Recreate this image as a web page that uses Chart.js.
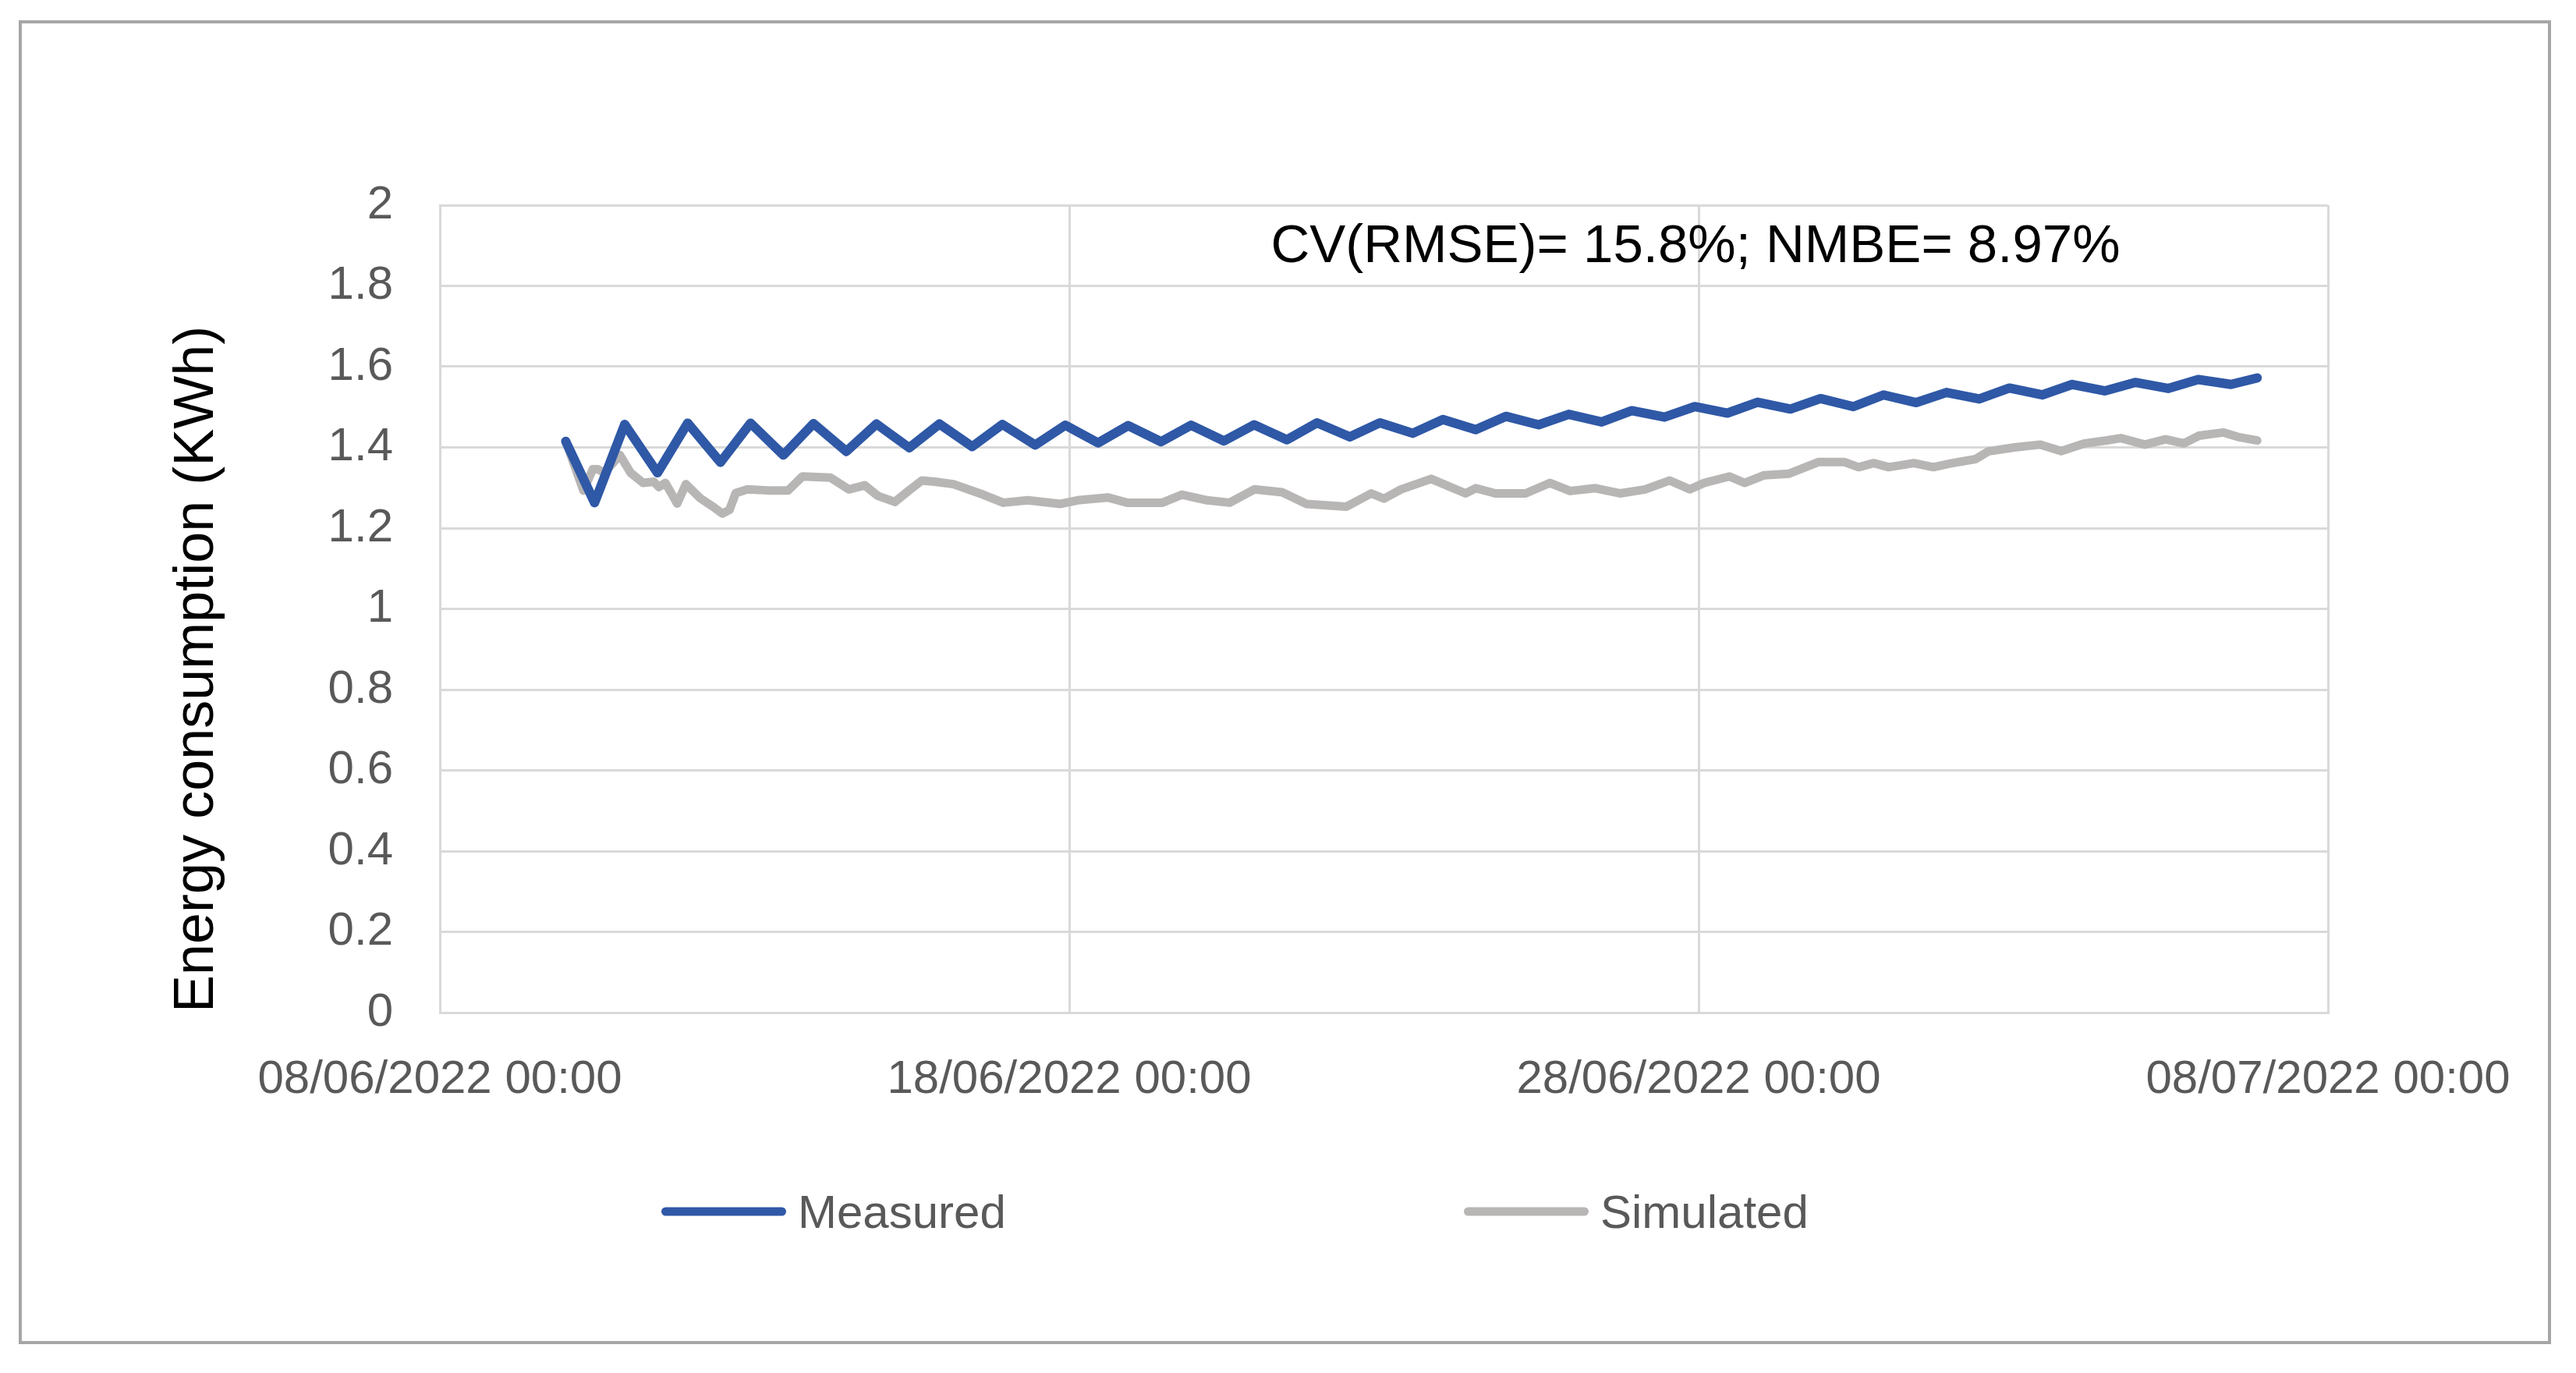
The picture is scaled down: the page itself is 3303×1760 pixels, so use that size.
<!DOCTYPE html>
<html>
<head>
<meta charset="utf-8">
<title>Energy consumption</title>
<script src="https://cdn.jsdelivr.net/npm/chart.js"></script>
<style>
    body { margin: 0; background: #ffffff; }
    #marco {
        position: absolute; left: 24px; top: 26px; width: 3247px; height: 1697px;
        border: 4px solid #a6a6a6; box-sizing: border-box; pointer-events: none;
    }
    #grafica { position: absolute; left: 0; top: 0; }
    .item-leyenda {
        position: absolute; top: 1553px; transform: translateY(-50%);
        display: flex; align-items: center;
        font-family: "Liberation Sans", Arial, sans-serif; font-size: 60px; color: #595959;
    }
    .linea-leyenda { width: 160px; height: 11px; border-radius: 6px; margin-right: 15px; }
</style>
</head>
<body>
<canvas id="grafica" width="3303" height="1760"></canvas>
<div id="leyenda"></div>
<div id="marco"></div>
<script>
// Datos de la gráfica
const fechaInicio = '2022-06-08T00:00';

// Etiquetas de los ejes
const etiquetasX = ['08/06/2022 00:00', '18/06/2022 00:00', '28/06/2022 00:00', '08/07/2022 00:00'];
const etiquetasY = ['0', '0.2', '0.4', '0.6', '0.8', '1', '1.2', '1.4', '1.6', '1.8', '2'];

// Serie medida
const fechasMedido = [
    '2022-06-10T00:00', '2022-06-10T11:00', '2022-06-10T22:30',
    '2022-06-11T11:00', '2022-06-11T22:30', '2022-06-12T11:00', '2022-06-12T22:30',
    '2022-06-13T11:00', '2022-06-13T22:30', '2022-06-14T11:00', '2022-06-14T22:30',
    '2022-06-15T11:00', '2022-06-15T22:30', '2022-06-16T11:00', '2022-06-16T22:30',
    '2022-06-17T11:00', '2022-06-17T22:30', '2022-06-18T11:00', '2022-06-18T22:30',
    '2022-06-19T11:00', '2022-06-19T22:30', '2022-06-20T11:00', '2022-06-20T22:30',
    '2022-06-21T11:00', '2022-06-21T22:30', '2022-06-22T11:00', '2022-06-22T22:30',
    '2022-06-23T11:00', '2022-06-23T22:30', '2022-06-24T11:00', '2022-06-24T22:30',
    '2022-06-25T11:00', '2022-06-25T22:30', '2022-06-26T11:00', '2022-06-26T22:30',
    '2022-06-27T11:00', '2022-06-27T22:30', '2022-06-28T11:00', '2022-06-28T22:30',
    '2022-06-29T11:00', '2022-06-29T22:30', '2022-06-30T11:00', '2022-06-30T22:30',
    '2022-07-01T11:00', '2022-07-01T22:30', '2022-07-02T11:00', '2022-07-02T22:30',
    '2022-07-03T11:00', '2022-07-03T22:30', '2022-07-04T11:00', '2022-07-04T22:30',
    '2022-07-05T11:00', '2022-07-05T22:30', '2022-07-06T11:00', '2022-07-06T21:00'
];
const valoresMedido = [
    1.415, 1.263, 1.457,
    1.337, 1.460, 1.363, 1.460,
    1.381, 1.459, 1.390, 1.458,
    1.399, 1.458, 1.402, 1.457,
    1.406, 1.455, 1.411, 1.454,
    1.414, 1.455, 1.416, 1.456,
    1.419, 1.461, 1.426, 1.461,
    1.435, 1.469, 1.444, 1.477,
    1.456, 1.482, 1.463, 1.491,
    1.475, 1.501, 1.485, 1.512,
    1.495, 1.521, 1.501, 1.530,
    1.511, 1.536, 1.520, 1.547,
    1.530, 1.556, 1.540, 1.561,
    1.546, 1.568, 1.556, 1.572
];

// Serie simulada
const fechasSimulado = [
    '2022-06-10T00:00', '2022-06-10T06:45', '2022-06-10T10:20', '2022-06-10T12:15', '2022-06-10T14:40',
    '2022-06-10T20:40', '2022-06-11T00:45', '2022-06-11T05:30', '2022-06-11T09:35', '2022-06-11T11:30',
    '2022-06-11T14:00', '2022-06-11T18:30', '2022-06-11T21:50', '2022-06-12T03:20', '2022-06-12T08:25',
    '2022-06-12T11:45', '2022-06-12T14:25', '2022-06-12T16:50', '2022-06-12T21:20', '2022-06-13T06:15',
    '2022-06-13T12:45', '2022-06-13T18:15', '2022-06-14T05:00', '2022-06-14T12:00', '2022-06-14T18:00',
    '2022-06-14T23:00', '2022-06-15T05:30', '2022-06-15T10:50', '2022-06-15T15:50', '2022-06-15T20:50',
    '2022-06-16T03:50', '2022-06-16T15:10', '2022-06-16T22:50', '2022-06-17T08:10', '2022-06-17T20:40',
    '2022-06-18T03:10', '2022-06-18T14:40', '2022-06-18T22:05', '2022-06-19T11:30', '2022-06-19T19:00',
    '2022-06-20T04:35', '2022-06-20T13:10', '2022-06-20T22:35', '2022-06-21T09:10', '2022-06-21T18:30',
    '2022-06-22T09:35', '2022-06-22T19:10', '2022-06-23T00:00', '2022-06-23T06:30', '2022-06-23T18:00',
    '2022-06-24T07:10', '2022-06-24T11:00', '2022-06-24T18:30', '2022-06-25T06:00', '2022-06-25T15:20',
    '2022-06-25T23:00', '2022-06-26T08:40', '2022-06-26T18:00', '2022-06-27T03:35', '2022-06-27T13:00',
    '2022-06-27T20:40', '2022-06-28T02:10', '2022-06-28T11:45', '2022-06-28T17:30', '2022-06-29T01:00',
    '2022-06-29T10:30', '2022-06-29T21:50', '2022-06-30T07:25', '2022-06-30T13:00', '2022-06-30T18:45',
    '2022-07-01T00:30', '2022-07-01T10:05', '2022-07-01T17:30', '2022-07-02T00:00', '2022-07-02T09:35',
    '2022-07-02T14:25', '2022-07-03T00:30', '2022-07-03T10:20', '2022-07-03T18:15', '2022-07-04T03:20',
    '2022-07-04T11:15', '2022-07-04T17:00', '2022-07-05T02:10', '2022-07-05T10:05', '2022-07-05T17:00',
    '2022-07-05T22:50', '2022-07-06T08:00', '2022-07-06T13:40', '2022-07-06T21:00'
];
const valoresSimulado = [
    1.415, 1.293, 1.346, 1.346, 1.337,
    1.381, 1.337, 1.312, 1.315, 1.302,
    1.312, 1.261, 1.309, 1.274, 1.252,
    1.236, 1.245, 1.287, 1.296, 1.293,
    1.293, 1.328, 1.325, 1.296, 1.306,
    1.280, 1.265, 1.293, 1.318, 1.315,
    1.309, 1.283, 1.263, 1.269, 1.260,
    1.269, 1.276, 1.263, 1.263, 1.283,
    1.269, 1.263, 1.296, 1.289, 1.260,
    1.253, 1.286, 1.273, 1.296, 1.322,
    1.286, 1.299, 1.286, 1.286, 1.312,
    1.292, 1.299, 1.286, 1.296, 1.318,
    1.296, 1.312, 1.328, 1.312, 1.331,
    1.335, 1.364, 1.364, 1.351, 1.361,
    1.351, 1.361, 1.351, 1.360, 1.371,
    1.390, 1.400, 1.407, 1.391, 1.410,
    1.417, 1.423, 1.407, 1.420, 1.410,
    1.429, 1.437, 1.426, 1.417
];

// Texto con las métricas de error
const textoMetricas = 'CV(RMSE)= 15.8%; NMBE= 8.97%';

const fuente = '"Liberation Sans", Arial, sans-serif';
const colorMedido = '#2f58a6';
const colorSimulado = '#b8b5b5';
const colorRejilla = '#d9d9d9';

// Pasar fechas a días desde el inicio del eje
const inicioMs = Date.parse(fechaInicio + ':00Z');
function aDias(fecha) {
    return (Date.parse(fecha + ':00Z') - inicioMs) / 86400000;
}
function puntos(fechas, valores) {
    return fechas.map((f, i) => ({ x: aDias(f), y: valores[i] }));
}

// Plugin para el texto de las métricas dentro del área
const pluginMetricas = {
    id: 'metricas',
    afterDatasetsDraw(chart) {
        const ctx = chart.ctx;
        const x = chart.scales.x.getPixelForValue(19.95);
        const y = chart.scales.y.getPixelForValue(1.895);
        ctx.save();
        ctx.font = '69px ' + fuente;
        ctx.fillStyle = '#000000';
        ctx.textAlign = 'center';
        ctx.textBaseline = 'middle';
        ctx.fillText(textoMetricas, x, y);
        ctx.restore();
    }
};

Chart.defaults.font.family = fuente;

const ctx = document.getElementById('grafica').getContext('2d');
const grafica = new Chart(ctx, {
    type: 'line',
    data: {
        datasets: [
            {
                label: 'Measured',
                data: puntos(fechasMedido, valoresMedido),
                borderColor: colorMedido,
                backgroundColor: colorMedido,
                borderWidth: 12,
                pointRadius: 0,
                tension: 0,
                borderJoinStyle: 'round',
                borderCapStyle: 'round'
            },
            {
                label: 'Simulated',
                data: puntos(fechasSimulado, valoresSimulado),
                borderColor: colorSimulado,
                backgroundColor: colorSimulado,
                borderWidth: 11,
                pointRadius: 0,
                tension: 0,
                borderJoinStyle: 'round',
                borderCapStyle: 'round'
            }
        ]
    },
    options: {
        responsive: false,
        animation: false,
        devicePixelRatio: 1,
        layout: {
            padding: { left: 0, right: 318, top: 263, bottom: 262 }
        },
        plugins: {
            legend: { display: false },
            tooltip: { enabled: false }
        },
        scales: {
            x: {
                type: 'linear',
                min: 0,
                max: 30,
                ticks: {
                    stepSize: 10,
                    autoSkip: false,
                    maxRotation: 0,
                    padding: 50,
                    color: '#595959',
                    font: { size: 60 },
                    callback: (valor, i) => etiquetasX[i]
                },
                grid: { color: colorRejilla, lineWidth: 3, drawTicks: false },
                border: { color: colorRejilla, width: 3 },
                afterFit: (eje) => { eje.height = 200; }
            },
            y: {
                min: 0,
                max: 2,
                ticks: {
                    stepSize: 0.2,
                    padding: 60,
                    color: '#595959',
                    font: { size: 60 },
                    callback: (valor, i) => etiquetasY[i]
                },
                title: {
                    display: true,
                    text: 'Energy consumption (KWh)',
                    color: '#000000',
                    align: 'start',
                    font: { size: 72 },
                    padding: { top: 210, bottom: 0 }
                },
                grid: { color: colorRejilla, lineWidth: 3, drawTicks: false },
                border: { color: colorRejilla, width: 3 },
                afterFit: (eje) => { eje.width = 564; }
            }
        }
    },
    plugins: [pluginMetricas]
});

// Leyenda en HTML a partir de las series
const posicionesLeyenda = [848, 1877];
const leyenda = document.getElementById('leyenda');
grafica.data.datasets.forEach((serie, i) => {
    const item = document.createElement('div');
    item.className = 'item-leyenda';
    item.style.left = posicionesLeyenda[i] + 'px';

    const linea = document.createElement('span');
    linea.className = 'linea-leyenda';
    linea.style.background = serie.borderColor;
    item.appendChild(linea);

    const texto = document.createElement('span');
    texto.textContent = serie.label;
    item.appendChild(texto);

    leyenda.appendChild(item);
});
</script>
</body>
</html>
